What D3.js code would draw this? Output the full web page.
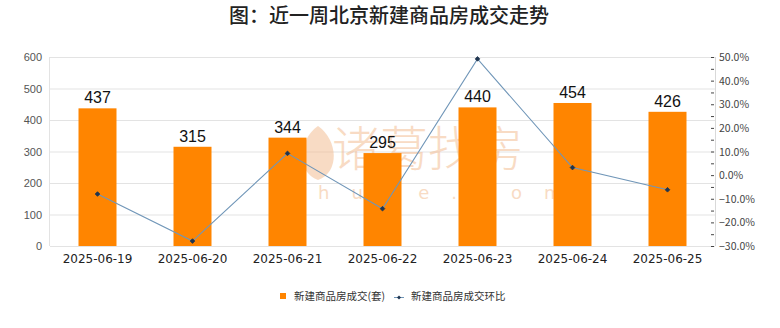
<!DOCTYPE html>
<html>
<head>
<meta charset="utf-8">
<script src="https://cdn.jsdelivr.net/npm/d3@7/dist/d3.min.js"></script>
<style>
  html, body { margin: 0; padding: 0; background: #fff; }
  svg { display: block; }
</style>
</head>
<body>
<svg id="chart" width="780" height="328"></svg>
<script>
// Weekly new-home transactions in Beijing
const dates = ["2025-06-19", "2025-06-20", "2025-06-21", "2025-06-22", "2025-06-23", "2025-06-24", "2025-06-25"];
const units = [437, 315, 344, 295, 440, 454, 426];
const changePct = [-8.0, -27.9, 9.2, -14.2, 49.2, 3.2, -6.2];
const leftTicks = [0, 100, 200, 300, 400, 500, 600];
const rightTicks = [-30, -20, -10, 0, 10, 20, 30, 40, 50];

const svg = d3.select("#chart");
const plotLeft = 50, plotRight = 715, plotTop = 57, plotBottom = 246;

const x = d3.scaleBand().domain(dates).range([plotLeft, plotRight]).paddingInner(0.6).paddingOuter(0.3);
const yL = d3.scaleLinear().domain([0, 600]).range([plotBottom, plotTop]);
const yR = d3.scaleLinear().domain([-30, 50]).range([plotBottom, plotTop]);

// Title
svg.append("text")
  .attr("x", 389).attr("y", 23)
  .attr("text-anchor", "middle")
  .attr("font-family", "'Noto Sans CJK SC', sans-serif")
  .attr("font-size", 20).attr("font-weight", 500)
  .attr("fill", "#222")
  .text("图：近一周北京新建商品房成交走势");

// Gridlines
svg.append("g").selectAll("line").data(leftTicks).join("line")
  .attr("x1", plotLeft).attr("x2", plotRight)
  .attr("y1", d => yL(d) + 0.5).attr("y2", d => yL(d) + 0.5)
  .attr("stroke", "#e3e3e3").attr("stroke-width", 1);

// Plot frame sides
svg.append("line").attr("x1", plotLeft - 0.5).attr("x2", plotLeft - 0.5).attr("y1", plotTop).attr("y2", plotBottom)
  .attr("stroke", "#e3e3e3");
svg.append("line").attr("x1", plotRight + 0.5).attr("x2", plotRight + 0.5).attr("y1", plotTop).attr("y2", plotBottom)
  .attr("stroke", "#d9d9d9");

// Watermark
const wm = svg.append("g").attr("opacity", 0.5);
wm.append("path")
  .attr("d", "M318,126 C298,140 296,172 318,180 C340,172 338,140 318,126 Z")
  .attr("fill", "#f3b98a");
wm.append("text")
  .attr("x", 428).attr("y", 166)
  .attr("text-anchor", "middle")
  .attr("font-family", "'Noto Sans CJK SC', sans-serif")
  .attr("font-size", 48).attr("font-weight", 300)
  .attr("fill", "#f3b98a")
  .text("诸葛找房");
wm.append("text")
  .attr("x", 435).attr("y", 199)
  .attr("text-anchor", "middle")
  .attr("font-family", "'DejaVu Sans', sans-serif")
  .attr("font-size", 18).attr("letter-spacing", 22)
  .attr("fill", "#f3b98a")
  .text("zhuge.com");

// Bars
svg.append("g").selectAll("rect").data(units).join("rect")
  .attr("x", (d, i) => x(dates[i]))
  .attr("y", d => yL(d))
  .attr("width", x.bandwidth())
  .attr("height", d => yL(0) - yL(d))
  .attr("fill", "#ff8500");

// Bar value labels
svg.append("g").selectAll("text").data(units).join("text")
  .attr("x", (d, i) => x(dates[i]) + x.bandwidth() / 2)
  .attr("y", d => yL(d) - 5)
  .attr("text-anchor", "middle")
  .attr("font-family", "'Liberation Sans', sans-serif")
  .attr("font-size", 16)
  .attr("fill", "#111")
  .text(d => d);

// Change line
const line = d3.line()
  .x((d, i) => x(dates[i]) + x.bandwidth() / 2)
  .y(d => yR(d));
svg.append("path").datum(changePct)
  .attr("d", line)
  .attr("fill", "none")
  .attr("stroke", "#7096b8").attr("stroke-width", 1.1);
svg.append("g").selectAll("path").data(changePct).join("path")
  .attr("transform", (d, i) => `translate(${x(dates[i]) + x.bandwidth() / 2},${yR(d)})`)
  .attr("d", d3.symbol(d3.symbolDiamond2, 14))
  .attr("fill", "#1f3550").attr("stroke", "#1f3550").attr("stroke-width", 0.8);

// Left axis labels
svg.append("g").selectAll("text").data(leftTicks).join("text")
  .attr("x", 42).attr("y", d => yL(d) + 4)
  .attr("text-anchor", "end")
  .attr("font-family", "'Liberation Sans', sans-serif")
  .attr("font-size", 11)
  .attr("fill", "#555")
  .text(d => d);

// Right axis ticks (major + minor)
const minor = d3.range(-30, 50.01, 5);
svg.append("g").selectAll("line").data(minor).join("line")
  .attr("x1", 711).attr("x2", 714)
  .attr("y1", d => yR(d) + 0.5).attr("y2", d => yR(d) + 0.5)
  .attr("stroke", "#444").attr("stroke-width", 1);

svg.append("g").selectAll("text").data(rightTicks).join("text")
  .attr("x", 719).attr("y", d => yR(d) + 4)
  .attr("font-family", "'Noto Sans CJK SC', sans-serif")
  .attr("font-size", 10.5)
  .attr("fill", "#444")
  .text(d => d3.format(".1f")(d) + "%");

// X axis labels
svg.append("g").selectAll("text").data(dates).join("text")
  .attr("x", d => x(d) + x.bandwidth() / 2)
  .attr("y", 263)
  .attr("text-anchor", "middle")
  .attr("font-family", "'DejaVu Sans', sans-serif")
  .attr("font-size", 12)
  .attr("fill", "#222")
  .text(d => d);

// Legend
const lg = svg.append("g").attr("font-family", "'Noto Sans CJK SC', sans-serif").attr("font-size", 10.5).attr("fill", "#333");
lg.append("rect").attr("x", 280).attr("y", 293).attr("width", 6).attr("height", 6).attr("fill", "#ff8500");
lg.append("text").attr("x", 294).attr("y", 300).text("新建商品房成交(套)");
lg.append("line").attr("x1", 394).attr("x2", 404).attr("y1", 297.5).attr("y2", 297.5).attr("stroke", "#7096b8");
lg.append("path").attr("transform", "translate(399,297.5)").attr("d", d3.symbol(d3.symbolDiamond2, 10)).attr("fill", "#1f3550");
lg.append("text").attr("x", 411).attr("y", 300).text("新建商品房成交环比");
</script>
</body>
</html>
